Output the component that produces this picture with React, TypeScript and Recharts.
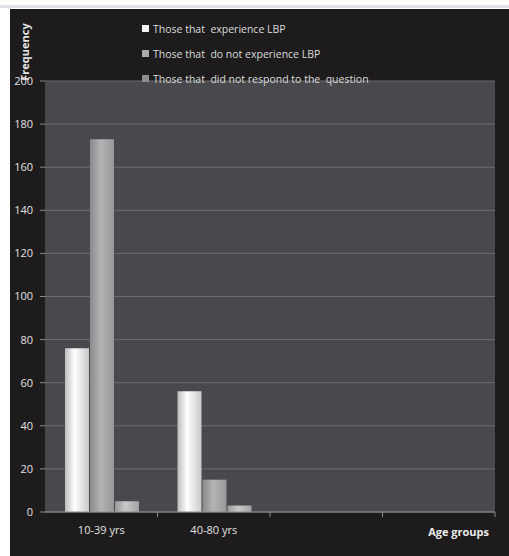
import { BarChart, Bar, XAxis, YAxis, CartesianGrid } from "recharts";

// ── data ──────────────────────────────────────────────
const categories = ["10-39 yrs", "40-80 yrs", " ", "  "];
const experience = [76, 56, null, null];
const noExperience = [173, 15, null, null];
const noResponse = [5, 3, null, null];
const yTicks = [0, 20, 40, 60, 80, 100, 120, 140, 160, 180, 200];

const SERIES = [
  { key: "exp", name: "Those that  experience LBP", fill: "url(#gWhite)", swatch: "#f2f2f2" },
  { key: "noexp", name: "Those that  do not experience LBP", fill: "url(#gGray)", swatch: "#a9a9ab" },
  { key: "nores", name: "Those that  did not respond to the  question", fill: "url(#gGray2)", swatch: "#8e8e90" },
];

const data = categories.map((c, i) => ({
  age: c,
  exp: experience[i],
  noexp: noExperience[i],
  nores: noResponse[i],
}));

const FONT = "'Open Sans', 'Liberation Sans', sans-serif";
const W = 499;
const H = 547;
const M = { top: 72, right: 14, bottom: 14, left: 5 };
const HALF_BAND = (W - M.left - M.right - 30) / categories.length / 2;

/* eslint-disable @typescript-eslint/no-explicit-any */
function XTick({ x, y, payload }: any) {
  return (
    <g>
      <line x1={x + HALF_BAND} x2={x + HALF_BAND} y1={y - 8} y2={y - 3} stroke="#8c8c8c" />
      <text x={x} y={y + 14} textAnchor="middle" fill="#e2e2e2" fontSize={11} fontFamily={FONT}>
        {payload.value}
      </text>
    </g>
  );
}
/* eslint-enable @typescript-eslint/no-explicit-any */

function LegendBox() {
  return (
    <div style={{ position: "absolute", left: 132, top: 7, fontFamily: FONT, fontSize: 10.5, color: "#dcdcdc", zIndex: 2 }}>
      {SERIES.map((s) => (
        <div key={s.key} style={{ display: "flex", alignItems: "center", height: 25, whiteSpace: "pre" }}>
          <span style={{ width: 7, height: 7, background: s.swatch, marginRight: 4, display: "inline-block" }} />
          <span>{s.name}</span>
        </div>
      ))}
    </div>
  );
}

export default function App() {
  return (
    <div style={{ position: "absolute", left: 0, top: 0, width: 509, height: 556, background: "#fff", overflow: "hidden" }}>
      <div style={{ position: "absolute", left: 0, top: 5, width: 509, height: 3, background: "#dfe3e8" }} />
      <div style={{ position: "absolute", left: 10, top: 9, width: W, height: H, background: "#1d1b1c" }}>
        <div
          style={{
            position: "absolute",
            left: 14,
            top: 43,
            transform: "translate(-50%, -50%) rotate(-90deg)",
            color: "#e6e6e6",
            fontFamily: FONT,
            fontSize: 11,
            fontWeight: 700,
            whiteSpace: "nowrap",
          }}
        >
          Frequency
        </div>
        <BarChart width={W} height={H} data={data} margin={M} barCategoryGap={20} barGap={1}>
          <defs>
            <linearGradient id="gWhite" x1="0" y1="0" x2="1" y2="0">
              <stop offset="0%" stopColor="#bdbdbf" />
              <stop offset="40%" stopColor="#ffffff" />
              <stop offset="100%" stopColor="#c9c9cb" />
            </linearGradient>
            <linearGradient id="gGray" x1="0" y1="0" x2="1" y2="0">
              <stop offset="0%" stopColor="#8a8a8d" />
              <stop offset="45%" stopColor="#b4b4b7" />
              <stop offset="100%" stopColor="#98989b" />
            </linearGradient>
            <linearGradient id="gGray2" x1="0" y1="0" x2="1" y2="0">
              <stop offset="0%" stopColor="#9a9a9c" />
              <stop offset="45%" stopColor="#c8c8ca" />
              <stop offset="100%" stopColor="#a2a2a4" />
            </linearGradient>
          </defs>
          <CartesianGrid fill="#49484d" stroke="#6f6e73" vertical={false} />
          <XAxis
            dataKey="age"
            tick={<XTick />}
            tickLine={false}
            axisLine={{ stroke: "#8c8c8c" }}
            label={{
              value: "Age groups",
              position: "insideBottomRight",
              offset: 6,
              fill: "#ececec",
              fontSize: 11,
              fontWeight: 700,
              fontFamily: FONT,
            }}
          />
          <YAxis
            width={30}
            domain={[0, 200]}
            ticks={yTicks}
            interval={0}
            tickSize={5}
            tickMargin={7}
            tick={{ fill: "#e2e2e2", fontSize: 11, fontFamily: FONT }}
            tickLine={{ stroke: "#8c8c8c" }}
            axisLine={false}
          />
          {SERIES.map((s) => (
            <Bar key={s.key} dataKey={s.key} name={s.name} fill={s.fill} isAnimationActive={false} />
          ))}
        </BarChart>
        <LegendBox />
      </div>
    </div>
  );
}
